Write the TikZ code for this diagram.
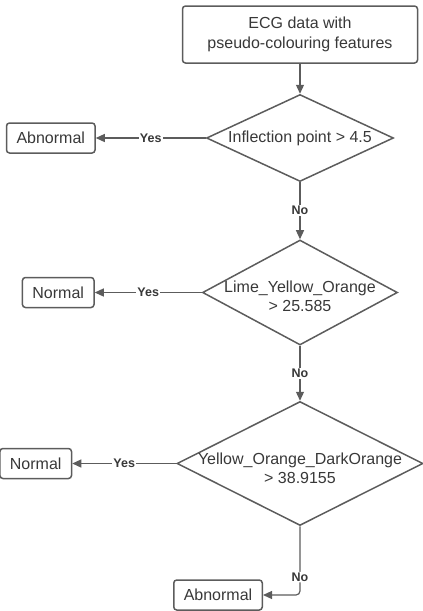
\documentclass[tikz,border=0pt]{standalone}
\usepackage{fontspec}
\setmainfont{Liberation Sans}
\usetikzlibrary{arrows.meta}
\usetikzlibrary{positioning}
\usetikzlibrary{shapes.geometric}
\definecolor{linegray}{HTML}{5C5C5C}
\definecolor{textgray}{HTML}{383838}
\tikzset{
  > = {Triangle[length=9pt, width=8pt]},
  box/.style = {draw = linegray, line width = 1.5pt, rounded corners = 3pt,
    minimum height = 30pt, inner xsep = 10pt, text = textgray,
    font = \fontsize{16}{19.5}\selectfont, align = center},
  decision/.style = {diamond, draw = linegray, line width = 1.5pt, inner sep = 0pt},
  cond/.style = {align = center, text = textgray, font = \fontsize{16}{19}\selectfont},
  answer/.style = {fill = white, inner sep = 1pt, text = textgray,
    font = \bfseries\fontsize{12.5}{14}\selectfont},
  flow/.style = {->, draw = linegray, line width = 1.2pt}
}

\begin{document}
\begin{tikzpicture}[x = 1pt, y = -1pt]
  \useasboundingbox (0,0) rectangle (423,611);
  % nodes
  \node (start) [box, minimum width = 235pt, minimum height = 57pt] at (300,34.5)
    {ECG data with\\pseudo-colouring features};
  \node (d1) [decision, below = 30pt of start, minimum width = 187pt, minimum height = 87pt,
    label = {[cond]center:Inflection point > 4.5}] {};
  \node (d2) [decision, below = 57pt of d1, minimum width = 195pt, minimum height = 105pt,
    label = {[cond, yshift = -4pt]center:Lime\_Yellow\_Orange\\> 25.585}] {};
  \node (d3) [decision, below = 55pt of d2, minimum width = 246pt, minimum height = 124pt,
    label = {[cond, yshift = -5pt]center:Yellow\_Orange\_DarkOrange\\> 38.9155}] {};
  \node (abn1) [box, left = 110pt of d1] {Abnormal};
  \node (nrm1) [box, left = 107pt of d2] {Normal};
  \node (nrm2) [box, left = 104pt of d3] {Normal};
  \node (abn2) [box, below left = 53pt and 37pt of d3.south] {Abnormal};
  % edges
  \draw [flow] (start) -- (d1);
  \draw [flow] (d1) -- node [answer] {Yes} (abn1);
  \draw [flow] (d1) -- node [answer] {No} (d2);
  \draw [flow] (d2) -- node [answer] {Yes} (nrm1);
  \draw [flow] (d2) -- node [answer] {No} (d3);
  \draw [flow] (d3) -- node [answer] {Yes} (nrm2);
  \draw [flow, rounded corners = 4pt] (d3) |- node [answer, pos = 0.37] {No} (abn2);
\end{tikzpicture}
\end{document}
